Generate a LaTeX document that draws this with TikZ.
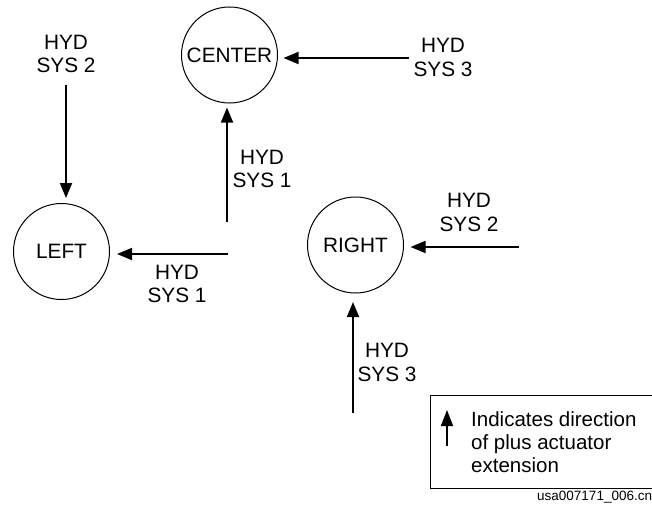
\documentclass[tikz,border=0pt]{standalone}
\usepackage{fontspec}
\setmainfont{Liberation Sans}
\usetikzlibrary{arrows.meta}
\begin{document}
\begin{tikzpicture}[x=1pt,y=-1pt,
  unit/.style={circle, draw, line width=1pt, minimum size=96pt, inner sep=0pt, font=\fontsize{20.8}{23.5}\selectfont},
  lbl/.style={align=center, inner sep=0pt, font=\fontsize{20.8}{23.5}\selectfont},
  actarrow/.style={line width=1.8pt, -{Triangle[length=15pt,width=12pt]}},
  legarrow/.style={line width=1.6pt, -{Triangle[length=16pt,width=12pt]}}]
\useasboundingbox (0,0) rectangle (652,508);
\clip (0,0) rectangle (652,508);

% units
\node[unit] (center) at (229.5,55) {CENTER};
\node[unit] (left) at (61.5,251.5) {LEFT};
\node[unit] (right) at (355.5,245) {RIGHT};

% labels
\node[lbl] (l1) at (66,54) {HYD\\SYS 2};
\node[lbl] (l2) at (443,57.5) {HYD\\SYS 3};
\node[lbl] (l3) at (262,169) {HYD\\SYS 1};
\node[lbl] (l4) at (177,284) {HYD\\SYS 1};
\node[lbl] (l5) at (469,212.5) {HYD\\SYS 2};
\node[lbl] (l6) at (387,362.5) {HYD\\SYS 3};

% free ends
\coordinate (c3) at (409,58);
\coordinate (c1) at (227,222);
\coordinate (lt) at (66,85);
\coordinate (l1s) at (228,254);
\coordinate (r2) at (519,247);
\coordinate (r3) at (353,413);

\draw[actarrow, shorten >=5.5pt] (c3) -- (c3 -| center.east);
\draw[actarrow, shorten >=4pt] (c1) -- (c1 |- center.south);
\draw[actarrow, shorten >=5pt] (lt) -- (lt |- left.north);
\draw[actarrow, shorten >=7pt] (l1s) -- (l1s -| left.east);
\draw[actarrow, shorten >=6.5pt] (r2) -- (r2 -| right.east);
\draw[actarrow, shorten >=8.5pt] (r3) -- (r3 |- right.south);

% legend
\node[draw, line width=1pt, anchor=north west, minimum width=232pt, minimum height=93pt, inner sep=0pt] (legend) at (430,395) {};
\coordinate (la) at (447,446);
\coordinate (lb) at (447,410);
\draw[legarrow] (la) -- (lb);
\node[align=left, anchor=north west, inner sep=0pt, font=\fontsize{20.5}{23.3}\selectfont] (legtext) at (471,411) {Indicates direction\\of plus actuator\\extension};

\node[anchor=base west, inner sep=0pt, font=\fontsize{13.5}{16}\selectfont] (cap) at (537,500) {usa007171\_006.cn};
\end{tikzpicture}
\end{document}
